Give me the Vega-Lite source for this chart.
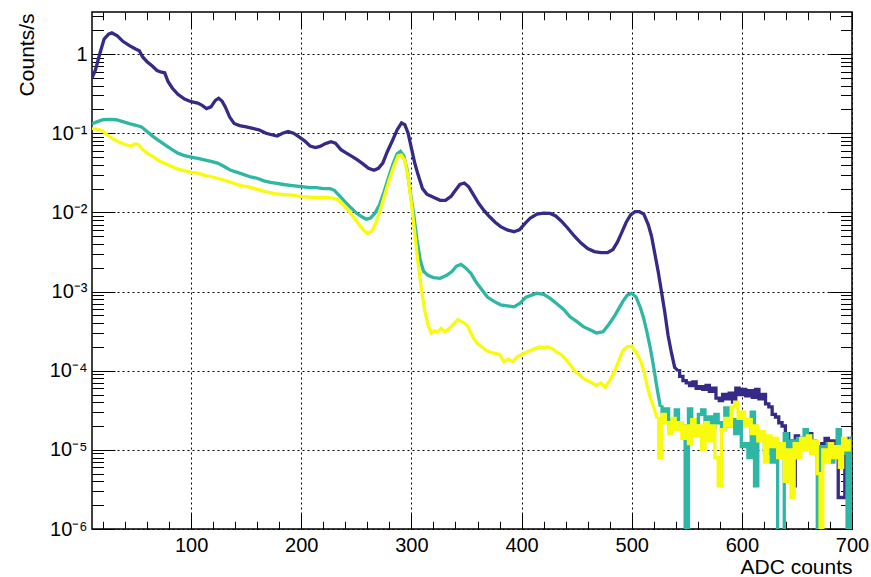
{
"$schema": "https://vega.github.io/schema/vega-lite/v6.json",
"width": 760, "height": 517,
"autosize": {"type": "none"},
"padding": {"left": 92, "top": 12, "right": 19, "bottom": 48},
"background": "white",
"config": {"view": {"stroke": "#000", "strokeWidth": 1.5}, "font": "Liberation Sans"},
"datasets": {
"blueA": [
{"u":10,"v":0.50},{"u":13,"v":0.62},{"u":17,"v":1.0},{"u":21,"v":1.55},{"u":25,"v":1.78},{"u":28,"v":1.85},{"u":33,"v":1.70},{"u":38,"v":1.45},{"u":44,"v":1.28},{"u":50,"v":1.15},{"u":53,"v":1.10},{"u":56,"v":0.92},{"u":60,"v":0.80},{"u":65,"v":0.70},{"u":69,"v":0.62},{"u":73,"v":0.59},{"u":76,"v":0.58},{"u":79,"v":0.45},{"u":83,"v":0.37},{"u":88,"v":0.31},{"u":94,"v":0.27},{"u":100,"v":0.25},{"u":106,"v":0.24},{"u":110,"v":0.225},{"u":114,"v":0.205},{"u":118,"v":0.215},{"u":122,"v":0.26},{"u":125,"v":0.277},{"u":128,"v":0.255},{"u":131,"v":0.215},{"u":135,"v":0.16},{"u":139,"v":0.133},{"u":144,"v":0.125},{"u":150,"v":0.12},{"u":156,"v":0.115},{"u":162,"v":0.11},{"u":168,"v":0.10},{"u":174,"v":0.095},{"u":178,"v":0.092},{"u":183,"v":0.1},{"u":188,"v":0.105},{"u":193,"v":0.1},{"u":198,"v":0.09},{"u":203,"v":0.08},{"u":208,"v":0.069},{"u":213,"v":0.066},{"u":217,"v":0.068},{"u":222,"v":0.074},{"u":227,"v":0.078},{"u":231,"v":0.075},{"u":236,"v":0.062},{"u":241,"v":0.056},{"u":246,"v":0.051},{"u":251,"v":0.046},{"u":256,"v":0.041},{"u":261,"v":0.036},{"u":266,"v":0.034},{"u":270,"v":0.036},{"u":274,"v":0.042},{"u":278,"v":0.058},{"u":283,"v":0.082},{"u":287,"v":0.11},{"u":291,"v":0.135},{"u":294,"v":0.128},{"u":297,"v":0.10},{"u":300,"v":0.065},{"u":303,"v":0.042},{"u":306,"v":0.030},{"u":310,"v":0.020},{"u":314,"v":0.017},{"u":320,"v":0.0155},{"u":326,"v":0.0142},{"u":331,"v":0.0142},{"u":336,"v":0.016},{"u":340,"v":0.019},{"u":344,"v":0.0225},{"u":348,"v":0.0235},{"u":352,"v":0.021},{"u":356,"v":0.017},{"u":361,"v":0.013},{"u":366,"v":0.0105},{"u":371,"v":0.0088},{"u":376,"v":0.0075},{"u":381,"v":0.0066},{"u":387,"v":0.006},{"u":393,"v":0.0057},{"u":398,"v":0.006},{"u":403,"v":0.0072},{"u":408,"v":0.0085},{"u":414,"v":0.0095},{"u":420,"v":0.0098},{"u":426,"v":0.0097},{"u":431,"v":0.009},{"u":436,"v":0.0078},{"u":442,"v":0.0063},{"u":448,"v":0.005},{"u":454,"v":0.0041},{"u":460,"v":0.0035},{"u":466,"v":0.0032},{"u":472,"v":0.0031},{"u":478,"v":0.0031},{"u":483,"v":0.0034},{"u":487,"v":0.0042},{"u":491,"v":0.0056},{"u":495,"v":0.0075},{"u":499,"v":0.0093},{"u":503,"v":0.0102},{"u":507,"v":0.0102},{"u":511,"v":0.0095},{"u":515,"v":0.0070},{"u":518,"v":0.0050},{"u":521,"v":0.0030},{"u":524,"v":0.0018},{"u":527,"v":0.0010},{"u":530,"v":0.00055},{"u":533,"v":0.00028},{"u":536,"v":0.00017},{"u":539,"v":0.00011},{"u":542,"v":0.0001}
],
"blueB": [
{"u":542,"v":1.0e-4},{"u":545,"v":8.5e-5},{"u":548,"v":7.5e-5},{"u":551,"v":7.0e-5},{"u":554,"v":6.5e-5},{"u":557,"v":7.2e-5},{"u":560,"v":6.0e-5},{"u":563,"v":6.3e-5},{"u":566,"v":5.8e-5},{"u":569,"v":6.5e-5},{"u":572,"v":5.5e-5},{"u":575,"v":6.0e-5},{"u":578,"v":4.5e-5},{"u":581,"v":4.2e-5},{"u":584,"v":5.0e-5},{"u":587,"v":4.4e-5},{"u":590,"v":5.2e-5},{"u":593,"v":4.0e-5},{"u":596,"v":6.0e-5},{"u":599,"v":5.0e-5},{"u":602,"v":5.8e-5},{"u":605,"v":4.8e-5},{"u":608,"v":5.6e-5},{"u":611,"v":4.6e-5},{"u":614,"v":5.8e-5},{"u":617,"v":4.4e-5},{"u":620,"v":5.0e-5},{"u":623,"v":3.8e-5},{"u":626,"v":3.5e-5},{"u":629,"v":2.8e-5},{"u":632,"v":2.6e-5},{"u":635,"v":2.2e-5},{"u":638,"v":2.0e-5},{"u":641,"v":1.6e-5},{"u":644,"v":1.3e-5},{"u":647,"v":3.5e-6},{"u":650,"v":1.5e-5},{"u":653,"v":1.2e-5},{"u":656,"v":1.4e-5},{"u":659,"v":1.1e-5},{"u":662,"v":1.6e-5},{"u":665,"v":1.3e-5},{"u":668,"v":1.0e-5},{"u":671,"v":3.5e-6},{"u":674,"v":1.2e-5},{"u":677,"v":1.4e-5},{"u":680,"v":1.0e-5},{"u":683,"v":1.3e-5},{"u":686,"v":1.1e-5},{"u":689,"v":2.5e-6},{"u":692,"v":2.5e-6},{"u":695,"v":1.2e-5},{"u":698,"v":1.4e-5},{"u":700,"v":1.3e-5}
],
"tealA": [
{"u":10,"v":0.132},{"u":15,"v":0.14},{"u":20,"v":0.148},{"u":26,"v":0.15},{"u":32,"v":0.148},{"u":38,"v":0.14},{"u":44,"v":0.132},{"u":50,"v":0.126},{"u":55,"v":0.12},{"u":60,"v":0.105},{"u":65,"v":0.092},{"u":70,"v":0.082},{"u":76,"v":0.072},{"u":82,"v":0.063},{"u":88,"v":0.056},{"u":94,"v":0.052},{"u":100,"v":0.050},{"u":106,"v":0.048},{"u":112,"v":0.046},{"u":118,"v":0.044},{"u":124,"v":0.042},{"u":130,"v":0.038},{"u":136,"v":0.034},{"u":142,"v":0.032},{"u":148,"v":0.030},{"u":154,"v":0.028},{"u":160,"v":0.027},{"u":166,"v":0.025},{"u":172,"v":0.024},{"u":178,"v":0.0232},{"u":184,"v":0.0225},{"u":190,"v":0.022},{"u":196,"v":0.0215},{"u":202,"v":0.021},{"u":208,"v":0.0205},{"u":214,"v":0.0205},{"u":220,"v":0.020},{"u":226,"v":0.020},{"u":230,"v":0.019},{"u":235,"v":0.016},{"u":240,"v":0.0135},{"u":245,"v":0.0115},{"u":250,"v":0.0098},{"u":255,"v":0.0088},{"u":259,"v":0.0082},{"u":263,"v":0.0085},{"u":267,"v":0.0098},{"u":271,"v":0.0125},{"u":275,"v":0.018},{"u":279,"v":0.027},{"u":283,"v":0.040},{"u":287,"v":0.055},{"u":290,"v":0.059},{"u":293,"v":0.052},{"u":296,"v":0.035},{"u":299,"v":0.018},{"u":302,"v":0.0095},{"u":305,"v":0.0045},{"u":308,"v":0.0025},{"u":311,"v":0.0018},{"u":315,"v":0.0016},{"u":320,"v":0.0015},{"u":326,"v":0.00147},{"u":332,"v":0.0016},{"u":337,"v":0.0018},{"u":341,"v":0.0021},{"u":345,"v":0.0022},{"u":349,"v":0.0020},{"u":354,"v":0.0017},{"u":359,"v":0.0013},{"u":364,"v":0.00105},{"u":369,"v":0.00085},{"u":375,"v":0.00075},{"u":381,"v":0.00068},{"u":387,"v":0.00066},{"u":393,"v":0.00064},{"u":398,"v":0.0007},{"u":404,"v":0.00085},{"u":409,"v":0.0009},{"u":414,"v":0.00095},{"u":420,"v":0.00092},{"u":426,"v":0.00082},{"u":432,"v":0.0007},{"u":438,"v":0.0006},{"u":444,"v":0.00048},{"u":450,"v":0.00042},{"u":456,"v":0.00036},{"u":462,"v":0.00033},{"u":468,"v":0.0003},{"u":474,"v":0.00031},{"u":479,"v":0.00038},{"u":484,"v":0.00048},{"u":488,"v":0.0006},{"u":492,"v":0.00075},{"u":496,"v":0.0009},{"u":500,"v":0.00095},{"u":504,"v":0.00085},{"u":508,"v":0.00062},{"u":511,"v":0.00045},{"u":514,"v":0.0003},{"u":517,"v":0.00019},{"u":520,"v":0.00011},{"u":523,"v":6.0e-5},{"u":526,"v":3.5e-5}
],
"tealB": [
{"u":526,"v":3.5e-5},{"u":529,"v":3.0e-5},{"u":532,"v":3.3e-5},{"u":535,"v":2.4e-5},{"u":538,"v":2.2e-5},{"u":541,"v":3.2e-5},{"u":544,"v":2.2e-5},{"u":547,"v":2.0e-5},{"u":550,"v":1.0e-7},{"u":553,"v":3.3e-5},{"u":556,"v":2.4e-5},{"u":559,"v":2.2e-5},{"u":562,"v":2.8e-5},{"u":565,"v":3.2e-5},{"u":568,"v":2.0e-5},{"u":571,"v":2.6e-5},{"u":574,"v":1.9e-5},{"u":577,"v":2.8e-5},{"u":580,"v":2.2e-5},{"u":583,"v":1.8e-5},{"u":586,"v":3.4e-5},{"u":589,"v":2.0e-5},{"u":592,"v":2.4e-5},{"u":595,"v":1.6e-5},{"u":598,"v":2.4e-5},{"u":601,"v":1.1e-5},{"u":604,"v":1.2e-5},{"u":607,"v":8.0e-6},{"u":610,"v":3.0e-5},{"u":613,"v":3.5e-6},{"u":616,"v":1.4e-5},{"u":619,"v":1.6e-5},{"u":622,"v":9.0e-6},{"u":625,"v":1.3e-5},{"u":628,"v":7.0e-6},{"u":631,"v":1.2e-5},{"u":634,"v":1.0e-7},{"u":637,"v":1.0e-7},{"u":640,"v":1.6e-5},{"u":643,"v":1.0e-5},{"u":646,"v":1.3e-5},{"u":649,"v":8.0e-6},{"u":652,"v":1.4e-5},{"u":655,"v":1.2e-5},{"u":658,"v":1.8e-5},{"u":661,"v":1.5e-5},{"u":664,"v":9.0e-6},{"u":667,"v":1.2e-5},{"u":670,"v":1.0e-7},{"u":673,"v":1.1e-5},{"u":676,"v":8.0e-6},{"u":679,"v":1.2e-5},{"u":682,"v":7.0e-6},{"u":685,"v":1.0e-5},{"u":688,"v":1.8e-5},{"u":691,"v":9.0e-6},{"u":694,"v":1.1e-5},{"u":697,"v":1.0e-7},{"u":700,"v":1.4e-5}
],
"yellowA": [
{"u":10,"v":0.115},{"u":15,"v":0.112},{"u":19,"v":0.108},{"u":24,"v":0.095},{"u":29,"v":0.085},{"u":34,"v":0.078},{"u":40,"v":0.072},{"u":45,"v":0.069},{"u":49,"v":0.073},{"u":52,"v":0.072},{"u":56,"v":0.062},{"u":60,"v":0.056},{"u":66,"v":0.05},{"u":72,"v":0.044},{"u":79,"v":0.04},{"u":86,"v":0.036},{"u":93,"v":0.034},{"u":100,"v":0.032},{"u":107,"v":0.031},{"u":114,"v":0.029},{"u":120,"v":0.028},{"u":128,"v":0.026},{"u":136,"v":0.024},{"u":144,"v":0.022},{"u":152,"v":0.021},{"u":160,"v":0.0195},{"u":168,"v":0.0182},{"u":176,"v":0.0172},{"u":184,"v":0.0168},{"u":192,"v":0.0165},{"u":200,"v":0.0158},{"u":210,"v":0.0155},{"u":220,"v":0.0155},{"u":228,"v":0.0152},{"u":233,"v":0.0145},{"u":238,"v":0.0125},{"u":243,"v":0.0105},{"u":248,"v":0.0085},{"u":252,"v":0.0072},{"u":256,"v":0.0061},{"u":260,"v":0.0054},{"u":264,"v":0.0058},{"u":268,"v":0.0075},{"u":272,"v":0.011},{"u":276,"v":0.017},{"u":280,"v":0.026},{"u":284,"v":0.038},{"u":288,"v":0.052},{"u":291,"v":0.053},{"u":294,"v":0.045},{"u":297,"v":0.028},{"u":300,"v":0.013},{"u":303,"v":0.0055},{"u":306,"v":0.0023},{"u":309,"v":0.0011},{"u":312,"v":0.00058},{"u":315,"v":0.00038},{"u":318,"v":0.0003},{"u":321,"v":0.00032},{"u":324,"v":0.00031},{"u":327,"v":0.00034},{"u":330,"v":0.00031},{"u":333,"v":0.00033},{"u":336,"v":0.00036},{"u":339,"v":0.0004},{"u":342,"v":0.00044},{"u":345,"v":0.00042},{"u":348,"v":0.0004},{"u":351,"v":0.00037},{"u":354,"v":0.0003},{"u":357,"v":0.00025},{"u":360,"v":0.00022},{"u":364,"v":0.0002},{"u":368,"v":0.00018},{"u":372,"v":0.00017},{"u":376,"v":0.000165},{"u":380,"v":0.00016},{"u":384,"v":0.00013},{"u":388,"v":0.00014},{"u":392,"v":0.00013},{"u":396,"v":0.00015},{"u":400,"v":0.00016},{"u":404,"v":0.00017},{"u":408,"v":0.00018},{"u":412,"v":0.00019},{"u":416,"v":0.0002},{"u":420,"v":0.000195},{"u":424,"v":0.0002},{"u":428,"v":0.00019},{"u":432,"v":0.00017},{"u":436,"v":0.00016},{"u":440,"v":0.00014},{"u":444,"v":0.00012},{"u":448,"v":0.0001},{"u":452,"v":9.0e-5},{"u":456,"v":8.0e-5},{"u":460,"v":7.5e-5},{"u":464,"v":7.0e-5},{"u":468,"v":6.5e-5},{"u":472,"v":7.0e-5},{"u":476,"v":6.2e-5},{"u":480,"v":7.5e-5},{"u":484,"v":9.5e-5},{"u":488,"v":0.00013},{"u":492,"v":0.00018},{"u":496,"v":0.0002},{"u":500,"v":0.000205},{"u":504,"v":0.00017},{"u":508,"v":0.000135},{"u":511,"v":0.0001},{"u":514,"v":6.5e-5},{"u":517,"v":4.5e-5},{"u":520,"v":3.5e-5},{"u":523,"v":2.5e-5}
],
"yellowB": [
{"u":523,"v":2.5e-5},{"u":526,"v":8.0e-6},{"u":529,"v":2.8e-5},{"u":532,"v":2.2e-5},{"u":535,"v":1.6e-5},{"u":538,"v":2.5e-5},{"u":541,"v":1.8e-5},{"u":544,"v":2.2e-5},{"u":547,"v":1.4e-5},{"u":550,"v":2.0e-5},{"u":553,"v":1.2e-5},{"u":556,"v":2.4e-5},{"u":559,"v":1.5e-5},{"u":562,"v":2.0e-5},{"u":565,"v":1.0e-5},{"u":568,"v":2.2e-5},{"u":571,"v":1.3e-5},{"u":574,"v":2.0e-5},{"u":577,"v":8.0e-6},{"u":580,"v":3.5e-6},{"u":583,"v":1.8e-5},{"u":586,"v":2.5e-5},{"u":589,"v":2.0e-5},{"u":592,"v":3.5e-5},{"u":595,"v":4.0e-5},{"u":598,"v":2.5e-5},{"u":601,"v":3.0e-5},{"u":604,"v":2.0e-5},{"u":607,"v":2.4e-5},{"u":610,"v":1.6e-5},{"u":613,"v":2.0e-5},{"u":616,"v":1.3e-5},{"u":619,"v":1.7e-5},{"u":622,"v":7.0e-6},{"u":625,"v":1.5e-5},{"u":628,"v":1.1e-5},{"u":631,"v":1.4e-5},{"u":634,"v":8.0e-6},{"u":637,"v":1.2e-5},{"u":640,"v":4.0e-6},{"u":643,"v":1.0e-5},{"u":646,"v":2.5e-6},{"u":649,"v":1.2e-5},{"u":652,"v":8.0e-6},{"u":655,"v":1.4e-5},{"u":658,"v":1.0e-5},{"u":661,"v":1.5e-5},{"u":664,"v":9.0e-6},{"u":667,"v":1.3e-5},{"u":670,"v":5.0e-6},{"u":672,"v":1.0e-7},{"u":675,"v":1.0e-5},{"u":678,"v":7.0e-6},{"u":681,"v":1.2e-5},{"u":684,"v":8.0e-6},{"u":687,"v":1.1e-5},{"u":690,"v":6.0e-6},{"u":693,"v":1.4e-5},{"u":696,"v":1.0e-5},{"u":699,"v":1.3e-5}
]
},
"layer": [
{
"encoding": {
"x": {"field": "u", "type": "quantitative",
 "scale": {"domain": [10, 700], "nice": false, "zero": false},
 "axis": {"orient": "bottom",
  "values": [20,40,60,80,100,120,140,160,180,200,220,240,260,280,300,320,340,360,380,400,420,440,460,480,500,520,540,560,580,600,620,640,660,680,700],
  "tickSize": {"condition": {"test": "datum.value % 100 === 0", "value": -15.5}, "value": -7.75},
  "tickColor": "#000", "tickWidth": 1, "domain": false,
  "grid": true, "gridColor": "#000", "gridDash": [2, 3], "gridWidth": 1,
  "gridOpacity": {"condition": {"test": "datum.value % 100 === 0", "value": 1}, "value": 0},
  "format": "d", "labelExpr": "datum.value % 100 === 0 ? datum.label : ''",
  "labelFont": "Liberation Sans", "labelFontSize": 20, "labelColor": "#000", "labelPadding": 22,
  "labelOverlap": false, "labelFlush": false,
  "title": "ADC counts", "titleFont": "Liberation Sans", "titleFontSize": 21, "titleFontWeight": "normal", "titleColor": "#000",
  "titleAlign": "right", "titleBaseline": "alphabetic", "titleAnchor": "end", "titleX": 760, "titleY": 44}},
"y": {"field": "v", "type": "quantitative",
 "scale": {"type": "log", "domain": [1e-6, 3.4], "nice": false},
 "axis": {"orient": "left",
  "values": [1e-6,2e-6,3e-6,4e-6,5e-6,6e-6,7e-6,8e-6,9e-6,1e-5,2e-5,3e-5,4e-5,5e-5,6e-5,7e-5,8e-5,9e-5,1e-4,2e-4,3e-4,4e-4,5e-4,6e-4,7e-4,8e-4,9e-4,1e-3,2e-3,3e-3,4e-3,5e-3,6e-3,7e-3,8e-3,9e-3,1e-2,2e-2,3e-2,4e-2,5e-2,6e-2,7e-2,8e-2,9e-2,0.1,0.2,0.3,0.4,0.5,0.6,0.7,0.8,0.9,1,2,3],
  "tickSize": {"condition": {"test": "abs(log(datum.value)/LN10 - round(log(datum.value)/LN10)) < 0.001", "value": -23}, "value": -11.5},
  "tickColor": "#000", "tickWidth": 1, "domain": false,
  "grid": true, "gridColor": "#000", "gridDash": [2, 3], "gridWidth": 1,
  "gridOpacity": {"condition": {"test": "abs(log(datum.value)/LN10 - round(log(datum.value)/LN10)) < 0.001", "value": 1}, "value": 0},
  "labelExpr": "abs(log(datum.value)/LN10 - round(log(datum.value)/LN10)) < 0.001 ? ['1','10⁻¹','10⁻²','10⁻³','10⁻⁴','10⁻⁵','10⁻⁶'][-round(log(datum.value)/LN10)] : ''",
  "labelFont": "Liberation Sans", "labelFontSize": 20, "labelColor": "#000", "labelPadding": 28,
  "labelOverlap": false, "labelFlush": false, "labelAlign": "right", "labelBaseline": "middle",
  "title": "Counts/s", "titleFont": "Liberation Sans", "titleFontSize": 21, "titleFontWeight": "normal", "titleColor": "#000",
  "titleAngle": 270, "titleAlign": "right", "titleBaseline": "alphabetic", "titleAnchor": "end", "titleX": -59, "titleY": 1}}
},
"layer": [
{"data": {"name": "blueA"}, "mark": {"type": "line", "color": "#352a87", "strokeWidth": 3.3, "clip": true}},
{"data": {"name": "blueB"}, "mark": {"type": "line", "color": "#352a87", "strokeWidth": 3.3, "interpolate": "step", "clip": true}},
{"data": {"name": "tealA"}, "mark": {"type": "line", "color": "#2eb7a4", "strokeWidth": 3.3, "clip": true}},
{"data": {"name": "tealB"}, "mark": {"type": "line", "color": "#2eb7a4", "strokeWidth": 3.3, "interpolate": "step", "clip": true}},
{"data": {"name": "yellowA"}, "mark": {"type": "line", "color": "#f9fb0e", "strokeWidth": 3.3, "clip": true}},
{"data": {"name": "yellowB"}, "mark": {"type": "line", "color": "#f9fb0e", "strokeWidth": 3.3, "interpolate": "step", "clip": true}}
]
},
{
"data": {"name": "blueA"},
"mark": {"type": "point", "opacity": 0},
"encoding": {
"x": {"field": "u", "type": "quantitative",
 "scale": {"domain": [10, 700], "nice": false, "zero": false},
 "axis": {"orient": "top",
  "values": [20,40,60,80,100,120,140,160,180,200,220,240,260,280,300,320,340,360,380,400,420,440,460,480,500,520,540,560,580,600,620,640,660,680,700],
  "tickSize": {"condition": {"test": "datum.value % 100 === 0", "value": -15.5}, "value": -7.75},
  "tickColor": "#000", "tickWidth": 1, "domain": false, "grid": false, "labels": false, "title": null}},
"y": {"field": "v", "type": "quantitative",
 "scale": {"type": "log", "domain": [1e-6, 3.4], "nice": false},
 "axis": {"orient": "right",
  "values": [1e-6,2e-6,3e-6,4e-6,5e-6,6e-6,7e-6,8e-6,9e-6,1e-5,2e-5,3e-5,4e-5,5e-5,6e-5,7e-5,8e-5,9e-5,1e-4,2e-4,3e-4,4e-4,5e-4,6e-4,7e-4,8e-4,9e-4,1e-3,2e-3,3e-3,4e-3,5e-3,6e-3,7e-3,8e-3,9e-3,1e-2,2e-2,3e-2,4e-2,5e-2,6e-2,7e-2,8e-2,9e-2,0.1,0.2,0.3,0.4,0.5,0.6,0.7,0.8,0.9,1,2,3],
  "tickSize": {"condition": {"test": "abs(log(datum.value)/LN10 - round(log(datum.value)/LN10)) < 0.001", "value": -23}, "value": -11.5},
  "tickColor": "#000", "tickWidth": 1, "domain": false, "grid": false, "labels": false, "title": null}}
}
}
],
"resolve": {"axis": {"x": "independent", "y": "independent"}}
}
